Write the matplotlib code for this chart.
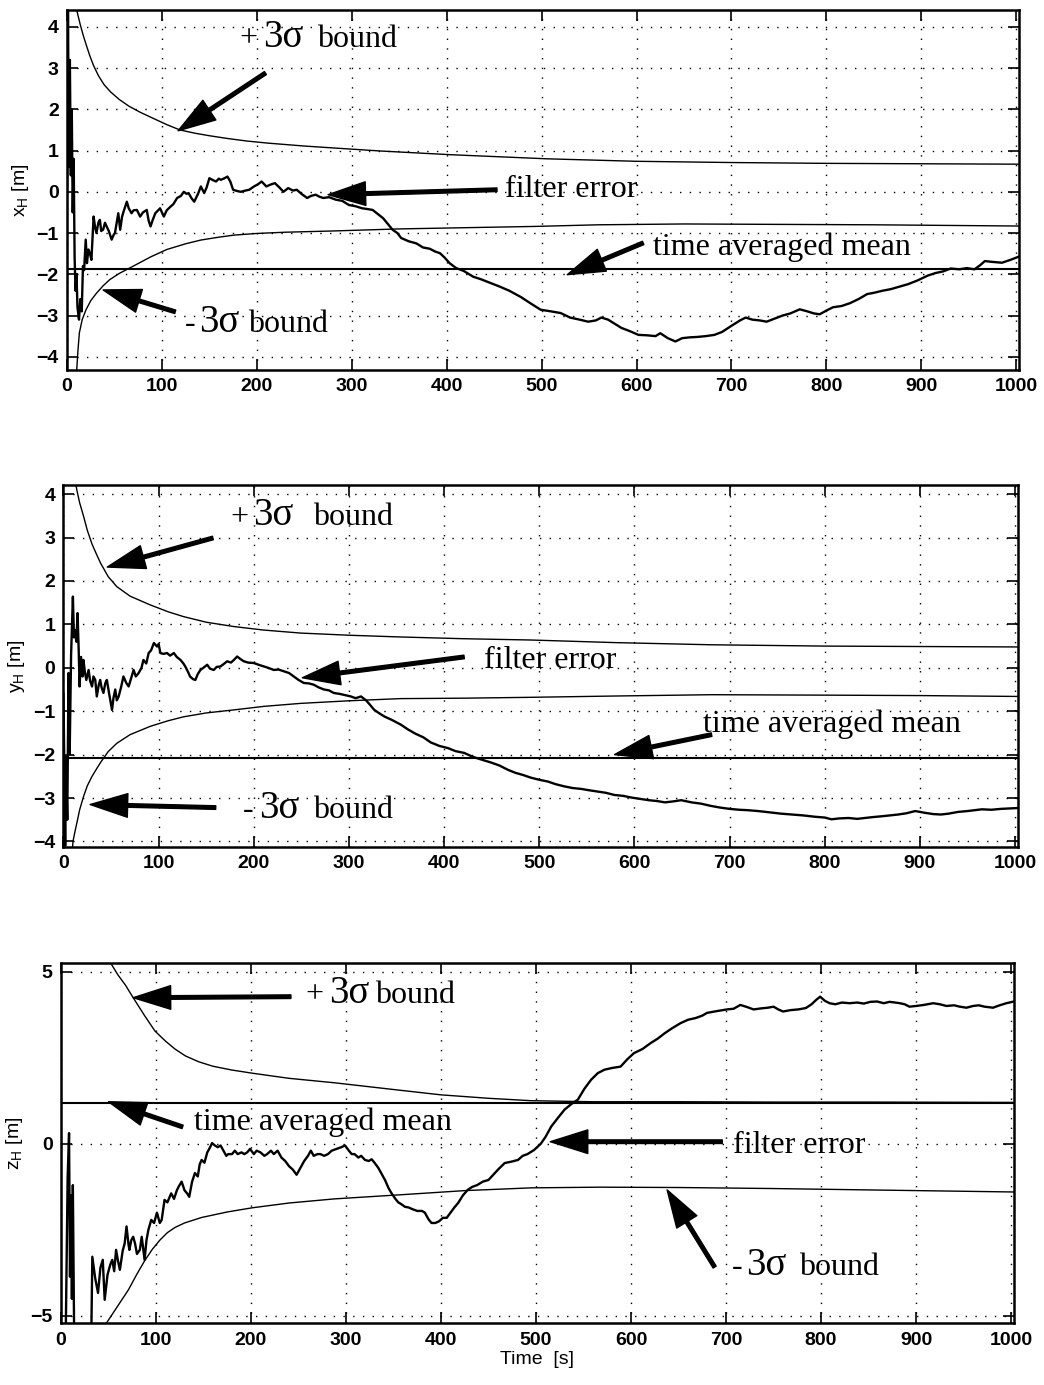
import matplotlib
matplotlib.use('Agg')
from matplotlib import pyplot as plt

plt.rcParams['font.family'] = ['Liberation Sans', 'DejaVu Sans']
plt.rcParams['mathtext.fontset'] = 'custom'
plt.rcParams['mathtext.rm'] = 'Liberation Sans'
plt.rcParams['mathtext.it'] = 'Liberation Sans:italic'

SERIF = ['Liberation Serif', 'DejaVu Serif']

# ---------------- x_H ----------------
ub_x_t = [4, 8, 11, 14, 17, 20, 24, 28, 33, 39, 46, 55, 65, 77, 90, 105, 119, 135, 150, 170, 190, 212, 250, 283, 330, 404, 506, 600, 700, 800, 900, 1003]
ub_x_v = [5.2, 4.6, 4.33, 4.05, 3.8, 3.58, 3.3, 3.06, 2.82, 2.6, 2.42, 2.24, 2.08, 1.93, 1.79, 1.63, 1.5, 1.42, 1.36, 1.29, 1.23, 1.18, 1.11, 1.06, 0.99, 0.9, 0.8, 0.74, 0.71, 0.69, 0.68, 0.67]
lb_x_t = [10, 11.5, 13, 16, 20, 25, 31, 38, 45, 55, 70, 88, 105, 125, 141, 160, 176, 200, 230, 280, 350, 420, 492, 560, 650, 750, 850, 1003]
lb_x_v = [-4.4, -3.85, -3.42, -3.1, -2.86, -2.64, -2.46, -2.28, -2.13, -1.98, -1.8, -1.58, -1.4, -1.26, -1.17, -1.1, -1.05, -1.01, -0.98, -0.95, -0.9, -0.87, -0.84, -0.8, -0.78, -0.79, -0.8, -0.83]
mean_x = -1.87
err_x_t = [0, 1, 2, 3, 4, 5, 6, 7, 8, 9,
           10, 11, 12.6, 14, 15.5, 16.8, 18, 19.7, 21, 22.5,
           24, 25.7, 28, 29.5, 31, 33, 34.6, 36, 38, 40,
           41.7, 44, 47, 49, 50.5, 52, 54, 56, 58, 60,
           63, 65, 68, 70, 73.6, 77, 80, 84, 86, 88,
           90, 93, 96, 98, 100, 102, 105, 109, 112, 116,
           120, 123, 126, 128, 131, 134, 138, 141, 144.5, 147,
           150, 154, 157, 160, 162, 166, 169, 172, 175, 179,
           183, 188, 192, 197, 201, 205, 210, 215, 219, 224,
           228, 233, 238, 242, 247, 253, 257, 262, 266, 270,
           276, 283, 290, 297, 304, 311, 317, 322, 328, 333,
           338, 343, 348, 352, 360, 368, 375, 382, 388, 393,
           398, 403, 410, 418, 428, 436, 445, 456, 466, 478,
           488, 499, 510, 520, 530, 540, 549, 557, 563, 570,
           577, 584, 593, 602, 611, 620, 625, 633, 641, 648,
           656, 664, 673, 682, 690, 700, 709, 715, 722, 730,
           737, 745, 754, 762, 772, 780, 787, 793, 800, 807,
           816, 825, 834, 843, 850, 859, 868, 877, 886, 896,
           907, 915, 923, 931, 940, 948, 956, 962, 967, 975,
           985, 994, 1003]
err_x_v = [0.0, 4.4, 0.6, 3.2, 0.4, 2.0, -0.5, 0.8, -1.6, -2.4,
           -2.0, -2.8, -3.1, -2.6, -2.9, -1.8, -1.9, -1.16, -1.73, -1.4,
           -1.49, -1.65, -0.6, -0.85, -1.0, -0.75, -0.68, -0.95, -0.92, -0.75,
           -0.84, -0.95, -1.16, -1.05, -1.0, -0.8, -0.52, -0.92, -0.6, -0.45,
           -0.24, -0.4, -0.52, -0.45, -0.44, -0.6, -0.5, -0.44, -0.7, -0.84,
           -0.7, -0.52, -0.45, -0.4, -0.5, -0.6, -0.45, -0.36, -0.3, -0.15,
           -0.1, 0.0, -0.05, -0.03, -0.15, -0.24, -0.05, 0.13, -0.03, 0.1,
           0.33, 0.28, 0.25, 0.32, 0.29, 0.33, 0.37, 0.25, 0.05, 0.02,
           0.0, 0.03, 0.05, 0.13, 0.18, 0.25, 0.13, 0.18, 0.21, 0.1,
           0.0, 0.09, 0.03, 0.05, -0.05, -0.15, -0.1, -0.07, -0.12, -0.15,
           -0.13, -0.19, -0.22, -0.32, -0.35, -0.4, -0.42, -0.44, -0.55, -0.64,
           -0.78, -0.92, -1.0, -1.12, -1.2, -1.25, -1.35, -1.38, -1.45, -1.49,
           -1.6, -1.73, -1.85, -1.92, -2.06, -2.12, -2.2, -2.3, -2.4, -2.55,
           -2.7, -2.86, -2.9, -2.94, -3.05, -3.1, -3.15, -3.12, -3.05, -3.1,
           -3.2, -3.3, -3.38, -3.47, -3.48, -3.5, -3.43, -3.55, -3.63, -3.55,
           -3.53, -3.52, -3.5, -3.47, -3.4, -3.25, -3.12, -3.05, -3.1, -3.12,
           -3.15, -3.08, -3.0, -2.95, -2.85, -2.9, -2.95, -2.97, -2.88, -2.8,
           -2.77, -2.7, -2.6, -2.48, -2.45, -2.4, -2.36, -2.3, -2.24, -2.15,
           -2.03, -1.97, -1.93, -1.86, -1.88, -1.85, -1.88, -1.78, -1.68, -1.7,
           -1.72, -1.65, -1.57]

# ---------------- y_H ----------------
ub_y_t = [10, 14, 17, 21, 25, 30, 35, 39, 47, 56, 70, 91, 110, 126, 150, 179, 210, 249, 300, 354, 420, 491, 580, 681, 800, 900, 1003]
ub_y_v = [4.6, 4.1, 3.8, 3.5, 3.17, 2.85, 2.6, 2.41, 2.1, 1.87, 1.65, 1.45, 1.29, 1.18, 1.05, 0.95, 0.87, 0.8, 0.75, 0.71, 0.67, 0.64, 0.58, 0.53, 0.5, 0.49, 0.48]
lb_y_t = [9, 10, 12, 14, 17, 21, 25, 30, 35, 39, 47, 56, 70, 91, 110, 126, 150, 179, 210, 249, 300, 354, 420, 491, 580, 681, 800, 900, 1003]
lb_y_v = [-4.3, -4.0, -3.78, -3.58, -3.27, -2.97, -2.72, -2.5, -2.32, -2.18, -1.93, -1.74, -1.54, -1.35, -1.22, -1.13, -1.04, -0.97, -0.89, -0.82, -0.76, -0.71, -0.7, -0.68, -0.65, -0.62, -0.63, -0.64, -0.66]
mean_y = -2.08
err_y_t = [0, 1.8, 2.5, 4, 5.3, 6.5, 8, 9.9, 11, 12.3,
           13.5, 14.8, 16, 16.9, 18.5, 20, 21, 22.5, 24, 26.4,
           28, 30, 31.5, 33.4, 35, 37, 38.6, 40, 42, 44,
           45.6, 48, 51, 52.5, 54.4, 56, 58, 60.5, 63, 66,
           68.5, 71, 73.7, 76, 79, 82, 84, 87, 89.5, 92,
           95, 98.3, 100, 101.8, 105, 108.8, 112, 116, 119, 123,
           126, 128, 131, 133, 136, 138.6, 141, 143.9, 147, 151,
           154, 157.9, 161, 164.9, 168, 172, 176, 179, 182.5, 186,
           189.5, 194, 200, 205, 210.6, 215, 221, 226, 231.6, 237,
           242, 247, 252.6, 258, 263, 268, 273.8, 279, 284, 290,
           296, 302, 307, 312.6, 318, 322, 326.6, 332, 337, 345,
           354.5, 362, 370, 378, 386, 395, 404, 412, 421, 430,
           440, 449, 458, 467, 475, 483, 491, 500, 509, 517,
           526, 535, 544, 552, 561, 570, 579, 588, 597, 606,
           615, 624, 632, 640, 649, 660, 670, 680, 690, 700,
           710, 719, 730, 742, 754, 765, 777, 789, 800, 807,
           815, 825, 834, 842, 850, 860, 868, 877, 886, 895,
           905, 914, 922, 930, 940, 950, 958, 965, 975, 985,
           994, 1003]
err_y_v = [-0.6, -4.1, -2.05, -3.5, -0.12, -2.0, 0.3, 1.64, 0.7, 0.87,
           0.6, 1.26, 0.4, -0.43, 0.25, -0.2, 0.18, -0.1, -0.28, -0.05,
           -0.3, -0.43, -0.2, -0.28, -0.66, -0.4, -0.28, -0.45, -0.58, -0.35,
           -0.28, -0.6, -0.97, -0.7, -0.5, -0.75, -0.66, -0.45, -0.2, -0.35,
           -0.43, -0.25, -0.05, -0.2, -0.12, 0.0, 0.18, 0.1, 0.34, 0.4,
           0.57, 0.49, 0.55, 0.34, 0.32, 0.34, 0.28, 0.34, 0.25, 0.18,
           0.1, 0.03, -0.1, -0.2, -0.26, -0.28, -0.15, -0.05, 0.0, 0.07,
           -0.02, -0.05, 0.02, 0.03, 0.08, 0.15, 0.12, 0.18, 0.26, 0.2,
           0.15, 0.12, 0.11, 0.07, 0.03, 0.0, -0.05, -0.04, -0.08, -0.12,
           -0.2, -0.28, -0.35, -0.36, -0.39, -0.45, -0.5, -0.52, -0.58, -0.6,
           -0.63, -0.66, -0.7, -0.66, -0.75, -0.85, -0.97, -1.05, -1.12, -1.2,
           -1.31, -1.42, -1.52, -1.6, -1.72, -1.8, -1.85, -1.92, -1.96, -2.05,
           -2.12, -2.18, -2.25, -2.35, -2.42, -2.47, -2.53, -2.58, -2.62, -2.68,
           -2.73, -2.77, -2.79, -2.82, -2.85, -2.88, -2.93, -2.95, -2.99, -3.02,
           -3.05, -3.07, -3.1, -3.08, -3.05, -3.1, -3.13, -3.18, -3.22, -3.25,
           -3.27, -3.28, -3.3, -3.33, -3.36, -3.38, -3.4, -3.43, -3.45, -3.49,
           -3.47, -3.46, -3.48, -3.46, -3.44, -3.42, -3.4, -3.38, -3.35, -3.3,
           -3.34, -3.37, -3.38, -3.36, -3.32, -3.3, -3.28, -3.26, -3.27, -3.25,
           -3.24, -3.23]

# ---------------- z_H ----------------
ub_z_t = [45, 52, 60, 68, 76, 88, 99, 110, 120, 131, 145, 160, 180, 201, 240, 288, 358, 400, 450, 495, 560, 650, 750, 850, 1003]
ub_z_v = [5.6, 5.26, 4.9, 4.6, 4.24, 3.72, 3.27, 2.98, 2.75, 2.55, 2.38, 2.25, 2.14, 2.05, 1.9, 1.77, 1.55, 1.42, 1.32, 1.25, 1.22, 1.22, 1.21, 1.21, 1.2]
lb_z_t = [45, 48, 60, 71, 80, 88, 96, 104, 112, 120, 130, 148, 175, 201, 240, 288, 358, 425, 495, 568, 650, 750, 850, 1003]
lb_z_v = [-5.6, -5.2, -4.7, -4.24, -3.78, -3.4, -3.07, -2.8, -2.58, -2.43, -2.3, -2.14, -1.98, -1.86, -1.72, -1.6, -1.48, -1.36, -1.28, -1.26, -1.27, -1.3, -1.34, -1.4]
mean_z = 1.19
err_z_t = [2, 5, 7, 8.5, 9.5, 10.5, 11.5, 12.5, 14, 20,
           30, 32, 33, 36, 39, 41.5, 44, 46, 49, 52,
           54, 56, 58, 60, 62, 65, 67, 69, 71, 72,
           74, 76, 78, 80, 83, 85, 88, 90, 92, 95,
           98, 101, 104, 106, 109, 112, 116, 119, 122, 124,
           127, 130, 133, 135, 138, 141, 144, 146, 148, 151,
           154, 157, 159, 162, 165, 168, 171, 174, 176, 180,
           183, 186, 190, 193, 196, 199, 203, 206, 210, 214,
           217, 221, 224, 228, 232, 236, 240, 244, 248, 252,
           256, 260, 263, 266, 270, 273, 277, 281, 285, 290,
           295, 299, 303, 306, 309, 313, 316, 320, 324, 327,
           330, 334, 337, 341, 345, 348, 352, 355, 358, 362,
           366, 370, 375, 380, 383, 387, 390, 394, 398, 402,
           406, 410, 414, 418, 423, 428, 433, 438, 444, 450,
           455, 460, 467, 474, 481, 486, 491, 498, 505, 510,
           516, 523, 530, 537, 544, 551, 558, 565, 572, 580,
           589, 596, 603, 612, 621, 628, 635, 643, 652, 660,
           668, 675, 680, 690, 701, 708, 715, 722, 729, 737,
           744, 750, 755, 760, 768, 776, 784, 790, 795, 799,
           804, 809, 815, 822, 830, 838, 845, 852, 859, 866,
           872, 878, 883, 888, 893, 900, 908, 918, 925, 932,
           940, 946, 953, 960, 966, 972, 981, 988, 995, 1003]
err_z_v = [-5.6, -5.6, -1.0, 0.31, -3.86, -1.5, -4.5, -1.2, -6.0, -7.0,
           -6.5, -5.4, -3.28, -3.9, -4.33, -3.6, -3.37, -4.53, -3.8, -3.5,
           -3.37, -3.7, -3.08, -3.4, -3.66, -3.1, -2.9, -2.4, -2.9, -3.08,
           -2.8, -2.7, -2.9, -3.2, -3.08, -2.7, -3.37, -2.8, -2.5, -2.21,
           -2.3, -2.0, -2.3, -2.21, -1.63, -1.7, -1.44, -1.6, -1.35, -1.24,
           -1.1, -1.35, -1.45, -1.54, -1.1, -0.85, -0.95, -0.6, -0.47, -0.55,
           -0.25, -0.1, 0.02, -0.05, -0.1, -0.05, -0.2, -0.35, -0.3, -0.3,
           -0.2, -0.3, -0.25, -0.3, -0.25, -0.15, -0.3, -0.2, -0.25, -0.35,
           -0.3, -0.2, -0.3, -0.2, -0.4, -0.5, -0.65, -0.75, -0.9, -0.7,
           -0.5, -0.35, -0.2, -0.35, -0.3, -0.3, -0.35, -0.3, -0.2, -0.15,
           -0.1, -0.05, -0.2, -0.3, -0.3, -0.4, -0.35, -0.47, -0.5, -0.45,
           -0.55, -0.7, -0.85, -1.05, -1.3, -1.44, -1.6, -1.7, -1.75, -1.83,
           -1.85, -1.9, -1.95, -1.95, -2.0, -2.2, -2.3, -2.3, -2.25, -2.15,
           -2.15, -2.0, -1.85, -1.72, -1.5, -1.34, -1.25, -1.2, -1.1, -1.05,
           -0.9, -0.75, -0.56, -0.52, -0.47, -0.35, -0.3, -0.18, 0.0, 0.2,
           0.5, 0.75, 0.99, 1.15, 1.28, 1.6, 1.86, 2.05, 2.15, 2.2,
           2.24, 2.45, 2.63, 2.75, 2.93, 3.05, 3.2, 3.35, 3.5, 3.6,
           3.65, 3.72, 3.8, 3.85, 3.9, 3.92, 4.03, 3.97, 3.9, 3.93,
           3.95, 3.98, 3.9, 3.84, 3.88, 3.9, 3.94, 4.05, 4.18, 4.27,
           4.15, 4.08, 4.05, 4.1, 4.08, 4.1, 4.07, 4.12, 4.13, 4.08,
           4.12, 4.1, 4.08, 4.05, 3.98, 4.0, 4.03, 4.08, 4.05, 4.0,
           4.02, 3.98, 3.95, 4.0, 4.02, 3.98, 3.95, 4.02, 4.08, 4.13]

x_ticks = list(range(0, 1001, 100))
T_MAX = 1003

fig = plt.figure(figsize=(10.44, 13.85), dpi=100)


def setup(ax, ylim, yticks, ylabel):
    ax.set_xlim(0, T_MAX)
    ax.set_ylim(*ylim)
    ax.set_xticks(x_ticks)
    ax.set_yticks(yticks)
    ax.set_yticklabels(['\u2212%d' % -v if v < 0 else '%d' % v for v in yticks])
    ax.tick_params(direction='in', length=8, width=1.2, top=True, right=True,
                   labelsize=14, pad=6)
    for lab in ax.get_xticklabels() + ax.get_yticklabels():
        lab.set_fontweight('bold')
    for s in ax.spines.values():
        s.set_linewidth(1.8)
    ax.grid(True, color='k', linestyle=(0, (1, 6)), linewidth=1.0)
    ax.set_ylabel(ylabel, fontsize=14, labelpad=4)


def draw(ax, ub_t, ub_v, lb_t, lb_v, mean, err_t, err_v):
    ax.plot(ub_t, ub_v, color='k', lw=1.0)
    ax.plot(lb_t, lb_v, color='k', lw=1.0)
    ax.axhline(mean, color='k', lw=1.5)
    ax.plot(err_t, err_v, color='k', lw=1.7)


def arrow(ax, tail, tip):
    ax.annotate('', xy=tip, xytext=tail,
                arrowprops=dict(facecolor='k', edgecolor='k', width=2.6,
                                headwidth=17, headlength=27, shrink=0))


def label(ax, x, y, s):
    ax.text(x, y, s, family=SERIF, fontsize=23, va='baseline', ha='left')


def sigma_label(ax, sign, xs, x3, xb, y):
    # "+3σ bound": the 3σ part is set larger than the rest
    ax.text(xs, y, sign, family=SERIF, fontsize=23, va='baseline')
    ax.text(x3, y, '3\u03c3', family=SERIF, fontsize=28, va='baseline')
    ax.text(xb, y, 'bound', family=SERIF, fontsize=23, va='baseline')


# x_H panel
ax1 = fig.add_axes([0.0642, 0.7329, 0.9119, 0.2599])
setup(ax1, (-4.32, 4.41), list(range(-4, 5)), r'x$_\mathregular{H}$ [m]')
draw(ax1, ub_x_t, ub_x_v, lb_x_t, lb_x_v, mean_x, err_x_t, err_x_v)
sigma_label(ax1, '+', 182, 207, 263, 3.52)
arrow(ax1, (209, 2.88), (117, 1.48))
label(ax1, 461, -0.12, 'filter error')
arrow(ax1, (453, 0.05), (275, -0.07))
label(ax1, 617, -1.53, 'time averaged mean')
arrow(ax1, (607, -1.24), (527, -2.01))
sigma_label(ax1, '-', 124, 139, 191, -3.39)
arrow(ax1, (114, -2.91), (38, -2.38))

# y_H panel
ax2 = fig.add_axes([0.0608, 0.3887, 0.9143, 0.2611])
setup(ax2, (-4.12, 4.21), list(range(-4, 5)), r'y$_\mathregular{H}$ [m]')
draw(ax2, ub_y_t, ub_y_v, lb_y_t, lb_y_v, mean_y, err_y_t, err_y_v)
sigma_label(ax2, '+', 175, 199, 262, 3.29)
arrow(ax2, (157, 2.99), (46, 2.32))
label(ax2, 442, 0.0, 'filter error')
arrow(ax2, (421, 0.25), (251, -0.23))
label(ax2, 672, -1.49, 'time averaged mean')
arrow(ax2, (681, -1.54), (579, -2.0))
sigma_label(ax2, '-', 188, 205, 262, -3.45)
arrow(ax2, (160, -3.22), (28, -3.15))

# z_H panel
ax3 = fig.add_axes([0.0584, 0.0446, 0.9128, 0.2599])
setup(ax3, (-5.21, 5.24), [-5, 0, 5], r'z$_\mathregular{H}$ [m]')
draw(ax3, ub_z_t, ub_z_v, lb_z_t, lb_z_v, mean_z, err_z_t, err_z_v)
sigma_label(ax3, '+', 257, 282, 331, 4.1)
arrow(ax3, (242, 4.27), (76, 4.24))
label(ax3, 140, 0.41, 'time averaged mean')
arrow(ax3, (128, 0.49), (50, 1.22))
label(ax3, 707, -0.26, 'filter error')
arrow(ax3, (696, 0.06), (515, 0.06))
sigma_label(ax3, '-', 706, 721, 777, -3.81)
arrow(ax3, (688, -3.58), (638, -1.34))
ax3.set_xlabel('Time  [s]', fontsize=14, labelpad=2)

fig.savefig('out.png', dpi=100)
